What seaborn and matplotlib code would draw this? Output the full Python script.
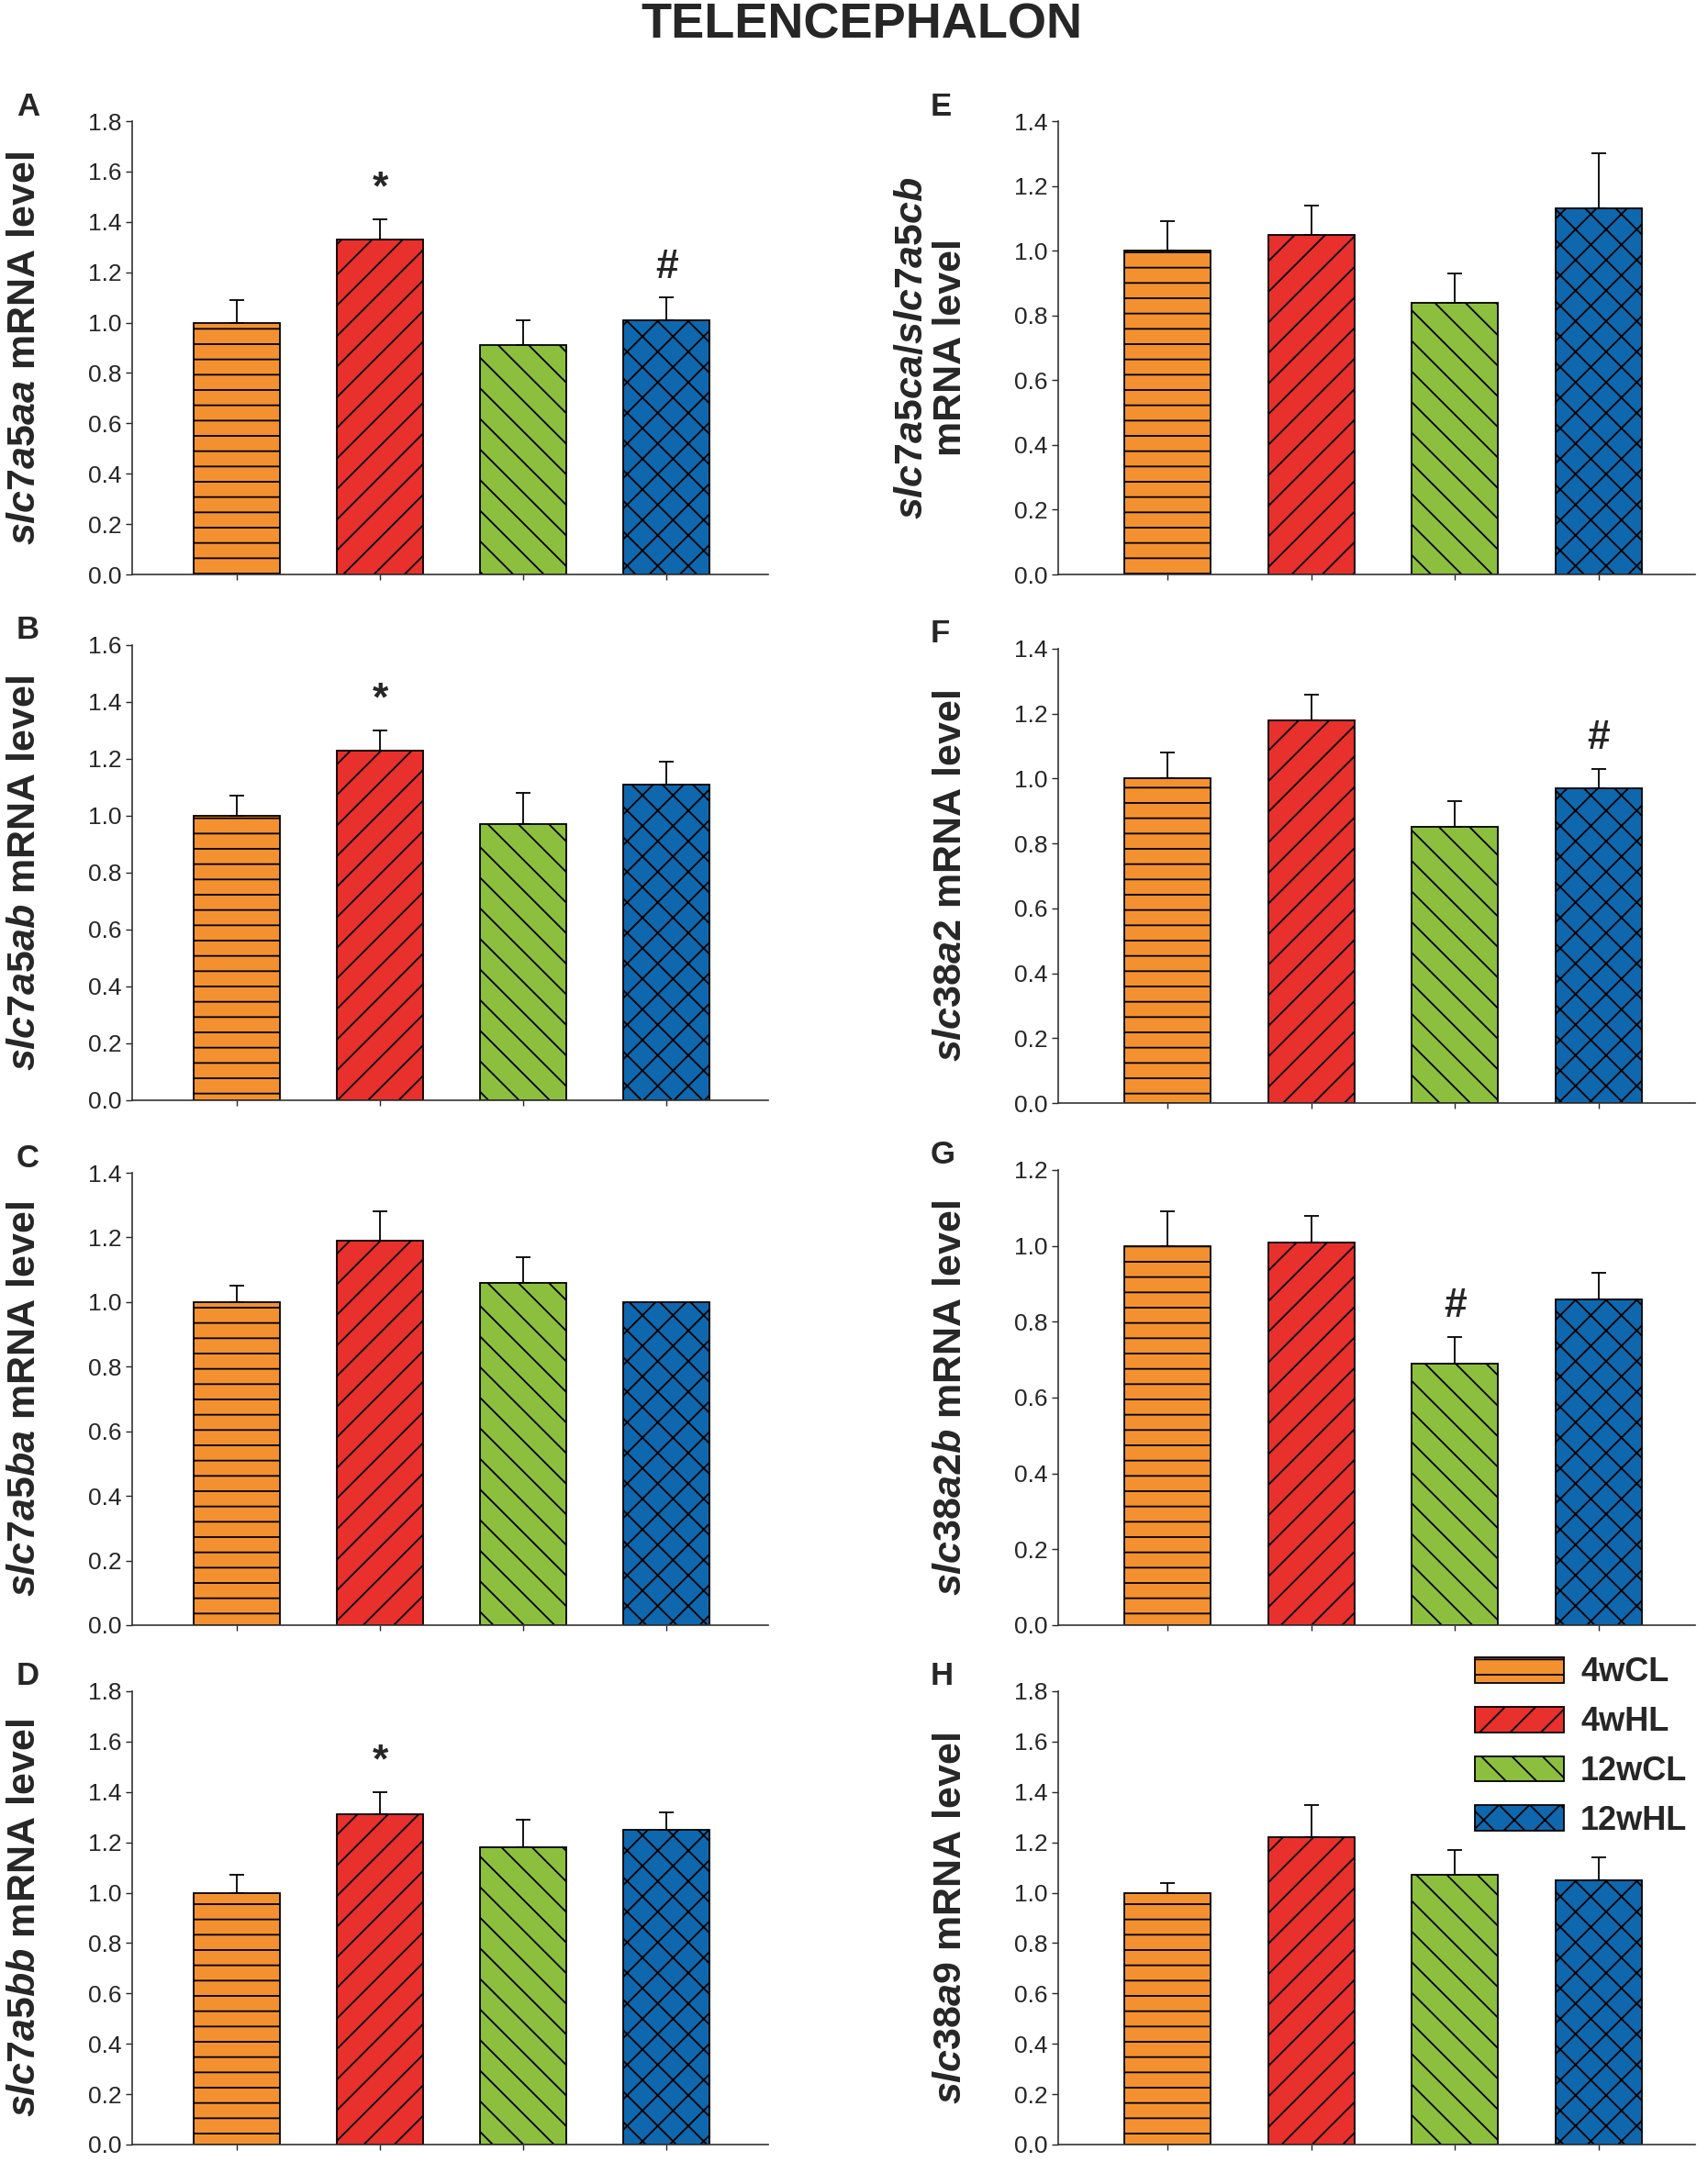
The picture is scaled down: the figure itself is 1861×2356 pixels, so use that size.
import numpy as np
import pandas as pd
import matplotlib
matplotlib.use("Agg")
import matplotlib.pyplot as plt
from matplotlib.patches import Patch
import seaborn as sns

# --- data ---
groups = ["4wCL", "4wHL", "12wCL", "12wHL"]
colors = ["#F39131", "#E8302C", "#8DBF3E", "#0F67AD"]
hatches = ["-", "/", "\\", "x"]

genes = ["slc7a5aa", "slc7a5ab", "slc7a5ba", "slc7a5bb",
         "slc7a5ca/slc7a5cb", "slc38a2", "slc38a2b", "slc38a9"]
letters = ["A", "B", "C", "D", "E", "F", "G", "H"]
ymax = [1.8, 1.6, 1.4, 1.8, 1.4, 1.4, 1.2, 1.8]

means = [
    [1.00, 1.33, 0.91, 1.01],
    [1.00, 1.23, 0.97, 1.11],
    [1.00, 1.19, 1.06, 1.00],
    [1.00, 1.31, 1.18, 1.25],
    [1.00, 1.05, 0.84, 1.13],
    [1.00, 1.18, 0.85, 0.97],
    [1.00, 1.01, 0.69, 0.86],
    [1.00, 1.22, 1.07, 1.05],
]
sems = [
    [0.09, 0.08, 0.10, 0.09],
    [0.07, 0.07, 0.11, 0.08],
    [0.05, 0.09, 0.08, np.nan],
    [0.07, 0.09, 0.11, 0.07],
    [0.09, 0.09, 0.09, 0.17],
    [0.08, 0.08, 0.08, 0.06],
    [0.09, 0.07, 0.07, 0.07],
    [0.04, 0.13, 0.10, 0.09],
]
# significance marks: (panel index, group index, symbol)
marks = [(0, 1, "*"), (0, 3, "#"), (1, 1, "*"), (3, 1, "*"),
         (5, 3, "#"), (6, 2, "#")]

# --- style ---
sns.set_style("ticks")
plt.rcParams["font.family"] = ["Liberation Sans Narrow", "Liberation Sans", "DejaVu Sans"]
plt.rcParams["mathtext.fontset"] = "custom"
plt.rcParams["mathtext.it"] = "Liberation Sans:italic:bold"
plt.rcParams["mathtext.rm"] = "Liberation Sans:bold"
plt.rcParams["hatch.linewidth"] = 1.3

W, H = 1861, 2356
fig = plt.figure(figsize=(W / 100, H / 100), dpi=100)

# axes boxes in pixels: (left, top, right, bottom)
boxes = [
    (144, 132, 837, 626), (144, 703, 837, 1199),
    (144, 1278, 837, 1771), (144, 1843, 837, 2337),
    (1153, 132, 1847, 626), (1153, 707, 1847, 1202),
    (1153, 1275, 1847, 1771), (1153, 1843, 1847, 2337),
]

fig.text(939 / W, 1 - 27 / H, "TELENCEPHALON", ha="center", va="center",
         fontsize=39, fontweight="bold", family="Liberation Sans")

for i in range(8):
    l, t, r, b = boxes[i]
    ax = fig.add_axes([l / W, 1 - b / H, (r - l) / W, (b - t) / H])
    df = pd.DataFrame({"group": groups, "value": means[i]})
    sns.barplot(data=df, x="group", y="value", hue="group", palette=colors,
                order=groups, hue_order=groups, width=0.6, errorbar=None,
                saturation=1, legend=False, ax=ax, edgecolor="black",
                linewidth=1.3)
    xs = []
    for p, h in zip(ax.patches, hatches):
        p.set_hatch(h)
        p.set_edgecolor("black")
        xs.append(p.get_x() + p.get_width() / 2)
    xs = np.array(xs)
    m = np.array(means[i])
    e = np.array(sems[i])
    ok = ~np.isnan(e)
    ax.errorbar(xs[ok], m[ok], yerr=[np.zeros(ok.sum()), e[ok]], fmt="none",
                ecolor="black", elinewidth=1.3, capsize=6, capthick=1.3, zorder=1)

    for (pi, gi, sym) in marks:
        if pi == i:
            ax.text(xs[gi], m[gi] + e[gi] + 0.025 * ymax[i], sym, ha="center",
                    va="bottom", fontsize=32, fontweight="bold",
                    family="Liberation Sans")

    ax.set_ylim(0, ymax[i])
    ax.set_xlim(-0.73 if i < 4 else -0.76, 3.71 if i < 4 else 3.67)
    ticks = np.arange(0, ymax[i] + 0.01, 0.2)
    ax.set_yticks(ticks)
    ax.set_yticklabels([f"{v:.1f}" for v in ticks])
    ax.set_xticks(xs)
    ax.set_xticklabels([])
    ax.set_xlabel("")
    ax.tick_params(axis="y", labelsize=19, length=5, width=1, direction="out")
    ax.tick_params(axis="x", length=4, width=1, direction="out")
    sns.despine(ax=ax)
    for s in ["left", "bottom"]:
        ax.spines[s].set_linewidth(1.2)
        ax.spines[s].set_color("#333333")

    if i == 4:
        lab = "$\\mathit{slc7a5ca/slc7a5cb}$\nmRNA level"
    else:
        lab = "$\\mathit{" + genes[i] + "}$ mRNA level"
    ax.set_ylabel(lab, fontsize=31, fontweight="bold", family="Liberation Sans",
                  linespacing=1.05)
    ax.yaxis.set_label_coords(-0.14, 0.5)

    fig.text((18 if i < 4 else 1014) / W, 1 - (t - 16) / H, letters[i],
             ha="left", va="center", fontsize=25, fontweight="bold",
             family="Liberation Sans")

    if i == 7:
        handles = [Patch(facecolor=c, edgecolor="black", hatch=h, linewidth=1.3)
                   for c, h in zip(colors, hatches)]
        fig.legend(handles, groups, loc="upper left",
                   bbox_to_anchor=(1574 / W, 1 - 1773 / H),
                   frameon=False, handlelength=2.7, handleheight=0.8,
                   labelspacing=0.52, handletextpad=0.5,
                   prop={"family": "Liberation Sans", "weight": "bold", "size": 26})

fig.savefig("out.png", dpi=100)
